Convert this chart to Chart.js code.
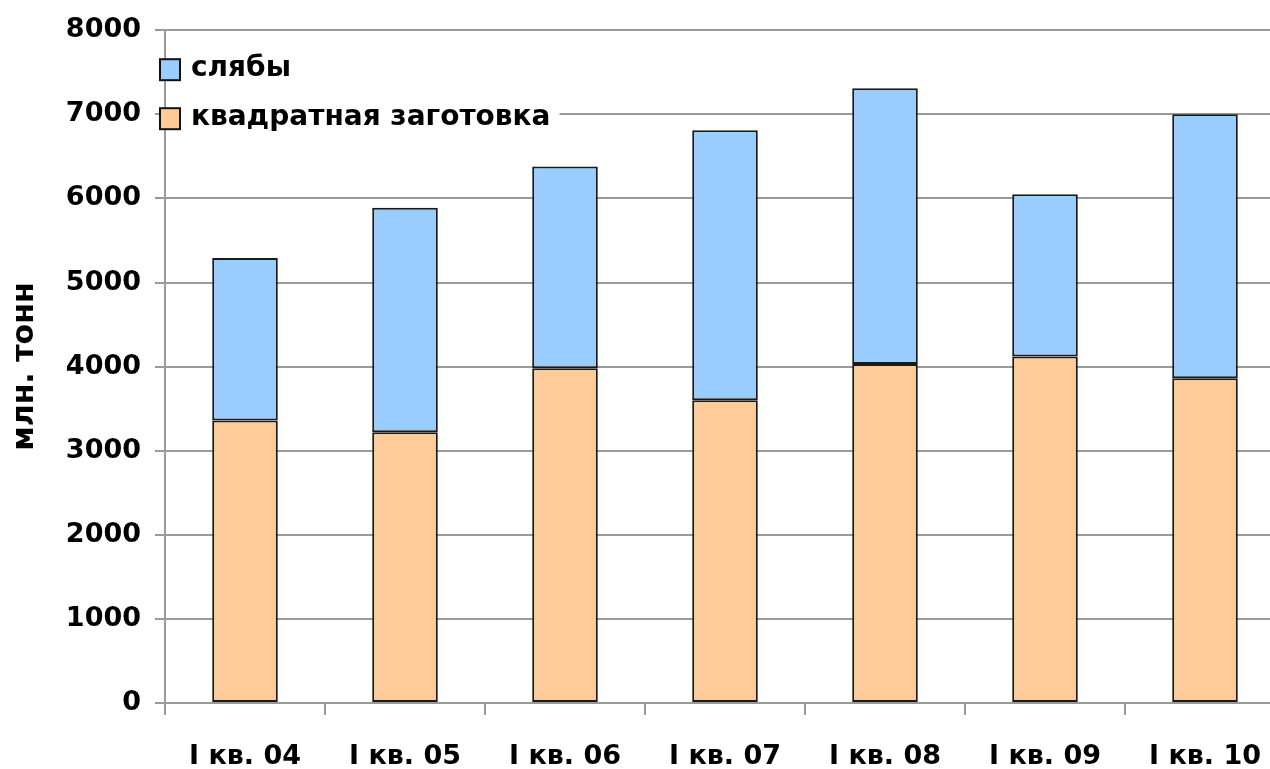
<!DOCTYPE html>
<html>
<head>
<meta charset="utf-8">
<script src="https://cdn.jsdelivr.net/npm/chart.js@4.4.1/dist/chart.umd.min.js"></script>
<style>
  html, body { margin: 0; padding: 0; background: #fff; overflow: hidden; }
  #wrap { width: 1290px; height: 769px; }
</style>
</head>
<body>
<div id="wrap"><canvas id="steelChart"></canvas></div>
<script>
// --- Data ---
const quarters = ["I кв. 04", "I кв. 05", "I кв. 06", "I кв. 07", "I кв. 08", "I кв. 09", "I кв. 10"];
const billetValues = [3360, 3220, 3980, 3600, 4030, 4120, 3860];
const slabValues = [1930, 2670, 2400, 3210, 3280, 1930, 3140];
const yTicks = [0, 1000, 2000, 3000, 4000, 5000, 6000, 7000, 8000];

const FONT = "'DejaVu Sans', Verdana, sans-serif";
const gridColor = "#9a9a9a";

// Legend drawn inside the plot, top-left, over the gridlines
const insideLegend = {
  id: "insideLegend",
  afterDraw(chart) {
    const ctx = chart.ctx;
    const area = chart.chartArea;
    const items = chart.data.datasets.slice().reverse();
    const boxX = area.left - 5;
    const textX = boxX + 31;
    const rowY = [area.top + 39, area.top + 88];

    ctx.save();
    ctx.font = "bold 28px " + FONT;
    let maxW = 0;
    items.forEach((ds) => { maxW = Math.max(maxW, ctx.measureText(ds.label).width); });
    ctx.fillStyle = "#fff";
    ctx.fillRect(area.left + 1, rowY[0] - 22, textX + maxW + 8 - area.left, rowY[1] - rowY[0] + 44);

    items.forEach((ds, i) => {
      const y = rowY[i];
      ctx.fillStyle = ds.backgroundColor;
      ctx.fillRect(boxX, y - 10, 20, 21);
      ctx.strokeStyle = "#111";
      ctx.lineWidth = 2;
      ctx.strokeRect(boxX, y - 10, 20, 21);
      ctx.fillStyle = "#000";
      ctx.textBaseline = "middle";
      ctx.fillText(ds.label, textX, y);
    });
    ctx.restore();
  },
};

new Chart(document.getElementById("steelChart"), {
  type: "bar",
  data: {
    labels: quarters,
    datasets: [
      {
        label: "квадратная заготовка",
        data: billetValues,
        backgroundColor: "#FFCC99",
        borderColor: "#1a1a1a",
        borderWidth: 2,
        borderSkipped: false,
      },
      {
        label: "слябы",
        data: slabValues,
        backgroundColor: "#99CCFF",
        borderColor: "#1a1a1a",
        borderWidth: 2,
        borderSkipped: false,
      },
    ],
  },
  options: {
    responsive: true,
    maintainAspectRatio: false,
    animation: false,
    layout: { padding: { top: 12, right: 5, left: 0, bottom: 0 } },
    datasets: { bar: { categoryPercentage: 1, barPercentage: 0.41 } },
    plugins: {
      legend: { display: false },
      tooltip: { enabled: false },
    },
    scales: {
      x: {
        stacked: true,
        offset: true,
        grid: {
          offset: true,
          drawOnChartArea: false,
          drawTicks: true,
          tickLength: 12,
          color: gridColor,
          lineWidth: 2,
        },
        border: { display: false },
        ticks: {
          color: "#000",
          padding: 26,
          font: { family: FONT, size: 27, weight: "bold" },
        },
        afterFit: (s) => { s.height = 66; },
      },
      y: {
        stacked: true,
        min: yTicks[0],
        max: yTicks[yTicks.length - 1],
        afterBuildTicks: (s) => { s.ticks = yTicks.map((v) => ({ value: v })); },
        grid: { color: gridColor, lineWidth: 2, tickLength: 10 },
        border: { color: gridColor, width: 2 },
        ticks: {
          color: "#000",
          padding: 14,
          font: { family: FONT, size: 27, weight: "bold" },
          callback: (value) => String(value),
        },
        title: {
          display: true,
          text: "млн. тонн",
          color: "#000",
          padding: { top: 7, bottom: 0 },
          font: { family: FONT, size: 30, weight: "bold" },
        },
        afterFit: (s) => { s.width = 165; },
      },
    },
  },
  plugins: [insideLegend],
});
</script>
</body>
</html>
